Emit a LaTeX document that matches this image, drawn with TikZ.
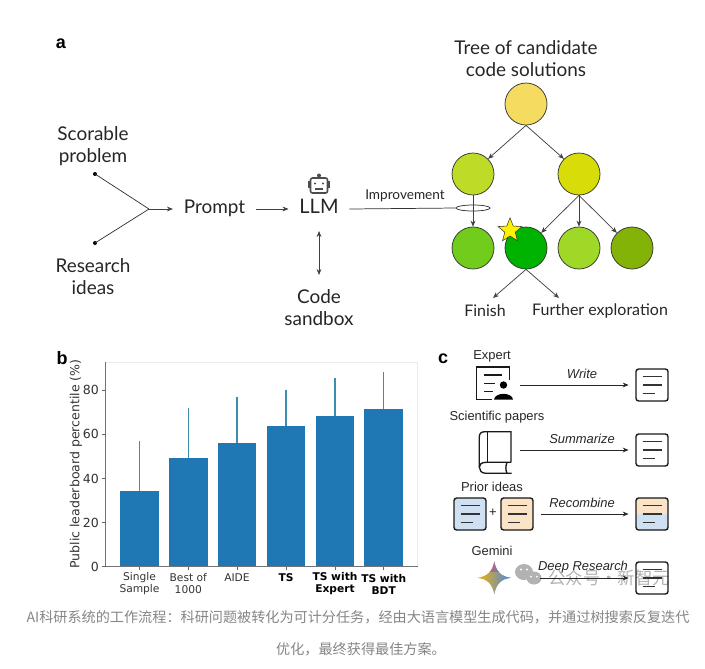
\documentclass[tikz,border=0pt]{standalone}
\usepackage{fontspec}
\usepackage{xcolor}
\usepackage{tikz}
\usetikzlibrary{positioning,shapes.geometric,arrows.meta}
\newfontfamily\labfont{Lato}
\newfontfamily\armfont{Liberation Sans}
\newfontfamily\pltfont{DejaVu Sans}
\newfontfamily\cjkfont{Noto Sans CJK SC}
\definecolor{barblue}{HTML}{1F77B4}
\definecolor{errblue}{HTML}{3C8DB0}
\definecolor{orangedoc}{HTML}{FBE3C8}
\definecolor{bluedoc}{HTML}{CFE0F2}
\definecolor{gemyellow}{HTML}{F5B400}
\definecolor{gemred}{HTML}{EA5A47}
\definecolor{gemgreen}{HTML}{2FB06A}
\definecolor{gemblue}{HTML}{4285F4}
\definecolor{gemteal}{HTML}{3FA8A0}
\tikzset{
  arr/.style={-{Stealth[length=4.5pt,width=3.6pt]},line width=.55pt,draw=black!75},
  carr/.style={arr,line width=.7pt,draw=black!85,shorten >=5pt},
  lbl/.style={font=\labfont\fontsize{14.2pt}{16.5pt}\selectfont,align=center,text=black!85,inner sep=0pt},
  midlbl/.style={lbl,text height=10pt,text depth=3pt,inner sep=8pt},
  panel/.style={font=\armfont\bfseries\fontsize{13.5pt}{15pt}\selectfont,inner sep=0pt},
  treenode/.style={circle,draw=black!80,line width=.55pt,minimum size=31.5pt,inner sep=0pt},
  dotend/.style={circle,fill=black,minimum size=3pt,inner sep=0pt},
  docbox/.style={draw=black!90,rounded corners=2pt,line width=1.05pt,minimum size=24pt,inner sep=0pt},
  docline/.style={line width=1pt,draw=black!80},
  iconline/.style={line width=1pt,draw=black!90},
  clbl/.style={font=\armfont\fontsize{9.7pt}{11pt}\selectfont,inner sep=0pt,text=black!85},
  verb/.style={clbl,font=\armfont\itshape\fontsize{9.7pt}{11pt}\selectfont},
  xtick/.style={font=\pltfont\fontsize{8pt}{9pt}\selectfont,align=center,inner sep=0pt,text=black!80},
  xbold/.style={xtick,font=\pltfont\bfseries\fontsize{8pt}{9pt}\selectfont,text=black},
  ytick/.style={font=\pltfont\fontsize{9.4pt}{11pt}\selectfont,inner sep=0pt,text=black!80},
  caption/.style={font=\cjkfont\fontsize{10.6pt}{12pt}\selectfont,text=black!48,inner sep=0pt}
}
\newcommand{\doclines}[1]{
  \draw[docline] ([shift={(-9.5,-8.5)}]#1.center) -- ++(19,0);
  \draw[docline] ([shift={(-9.5,0)}]#1.center) -- ++(19,0);
  \draw[docline] ([shift={(-9.5,8.5)}]#1.center) -- ++(12,0);
}
\begin{document}
\begin{tikzpicture}[x=0.75pt,y=0.75pt,yscale=-1]
\useasboundingbox (0,0) rectangle (705,668);

%Panel a: inputs
\draw (61,44) node (panela) [panel] {a};
\draw (93,146) node (scorable) [lbl] {Scorable\\problem};
\draw (93,277) node (research) [lbl] {Research\\ideas};
\draw (95,174) node (dotscore) [dotend] {};
\draw (95,243) node (dotideas) [dotend] {};
\coordinate (join) at (149,209);
\draw (214.5,209) node (prompt) [midlbl] {Prompt};
\draw (319,209) node (llm) [midlbl,font=\labfont\fontsize{15pt}{17pt}\selectfont] {LLM};
\draw (319,307.5) node (sandbox) [lbl] {Code\\sandbox};
\draw[line width=.55pt,draw=black!80] (dotscore.center) -- (join);
\draw[line width=.55pt,draw=black!80] (dotideas.center) -- (join);
\draw[arr] (join) -- (prompt.west);
\draw[arr] (prompt.east) -- (llm.west);
\coordinate (sandtop) at (319,275);
\coordinate (llmlow) at (319,231);
\draw[{Stealth[length=4.5pt,width=3.6pt]}-{Stealth[length=4.5pt,width=3.6pt]},line width=.55pt,draw=black!75] (llmlow) -- (sandtop);

%Robot icon
\draw[line width=1.2pt,draw=black!70,rounded corners=1.5pt] (310.5,178) rectangle (327.5,193);
\fill[black!70] (307.8,181) rectangle (310.5,188);
\fill[black!70] (327.5,181) rectangle (330.2,188);
\fill[black!70] (319,175.5) circle (2);
\fill[black!70] (315,183.5) circle (1.2);
\fill[black!70] (323,183.5) circle (1.2);
\draw[line width=.9pt,draw=black!70] (315,189) -- (323,189);

%Tree of solutions
\draw (526,59) node (treehead) [lbl] {Tree of candidate\\code solutions};
\draw (526,104) node (root) [treenode,fill={rgb,255:red,245;green,220;blue,96}] {};
\draw (473,174) node (lefttwo) [treenode,fill={rgb,255:red,190;green,219;blue,40}] {};
\draw (579,174) node (righttwo) [treenode,fill={rgb,255:red,216;green,220;blue,8}] {};
\draw (473,248) node (leafa) [treenode,fill={rgb,255:red,114;green,204;blue,28}] {};
\draw (526,248) node (leafb) [treenode,fill={rgb,255:red,0;green,179;blue,0}] {};
\draw (579,248) node (leafc) [treenode,fill={rgb,255:red,160;green,216;blue,40}] {};
\draw (632,248) node (leafd) [treenode,fill={rgb,255:red,132;green,179;blue,8}] {};
\draw[arr] (root.south) -- (lefttwo.north east);
\draw[arr] (root.south) -- (righttwo.north west);
\draw[arr] (lefttwo.south) -- (leafa.north);
\draw[arr] (righttwo.south) -- (leafb.north east);
\draw[arr] (righttwo.south) -- (leafc.north);
\draw[arr] (righttwo.south) -- (leafd.north west);
\draw (510,230.5) node (beststar) [star,star points=5,star point ratio=2.3,minimum size=19pt,inner sep=0pt,draw=black!80,line width=.4pt,fill={rgb,255:red,255;green,242;blue,0}] {};

%Improvement link
\draw (473,208) node (ring) [ellipse,draw=black!80,line width=.55pt,minimum width=25.5pt,minimum height=4.5pt,inner sep=0pt] {};
\draw[line width=.55pt,draw=black!80] (llm.east) -- (ring.west);
\draw (405,196) node (improve) [lbl,font=\labfont\fontsize{10.2pt}{11pt}\selectfont] {Improvement};

%Tree exits
\draw (485,311) node (finish) [lbl,font=\labfont\fontsize{12pt}{13pt}\selectfont] {Finish};
\draw (600,311) node (further) [lbl,font=\labfont\fontsize{12pt}{13pt}\selectfont] {Further exploration};
\coordinate (finishtip) at (493,298);
\coordinate (furthertip) at (559,298);
\draw[arr] (leafb.south) -- (finishtip);
\draw[arr] (leafb.south) -- (furthertip);

%Panel b: bar chart
\draw (62,358) node (panelb) [panel] {b};
\draw[black!8,line width=.5pt] (106,362) -- (417.7,362) -- (417.7,566.7);
\foreach \xc/\ytop/\yerr in {139.5/491/441.3,188.3/457.7/408,237/442.7/397,286/425.7/390,335/415.7/378.3,383.7/408.7/372}{
  \fill[barblue] (\xc-19.4,\ytop) rectangle (\xc+19.4,566.7);
  \draw[errblue,line width=.95pt] (\xc,\ytop) -- (\xc,\yerr);
  \draw[black!60,line width=.5pt] (\xc,566.7) -- (\xc,570);
}
\draw[black!55,line width=.6pt] (105.7,362) -- (105.7,566.7) -- (417.7,566.7);
\foreach \val/\ypos in {0/566.7,20/522.6,40/478.5,60/434.4,80/390.3}{
  \draw[black!60,line width=.5pt] (102,\ypos) -- (105.7,\ypos);
  \draw (99,\ypos) node (tick\val) [ytick,anchor=east] {\val};
}
\draw (76,464) node (ylabel) [ytick,rotate=90] {Public leaderboard percentile (\%)};
\draw (139.5,584) node (barone) [xtick] {Single\\Sample};
\draw (188.3,584) node (bartwo) [xtick] {Best of\\1000};
\draw (237,578) node (barthree) [xtick] {AIDE};
\draw (286,578) node (barfour) [xbold] {TS};
\draw (335,584) node (barfive) [xbold] {TS with\\Expert};
\draw (383.7,584) node (barsix) [xbold] {TS with\\BDT};

%Panel c
\draw (443,359) node (panelc) [panel] {c};

%Expert row
\draw (492,356) node (expert) [clbl] {Expert};
\draw[iconline] (509.3,380) -- (509.3,367) -- (476.7,367) -- (476.7,399.3) -- (491.7,399.3);
\draw[iconline] (484,375) -- (501.7,375);
\draw[iconline] (484,383.3) -- (495,383.3);
\draw[iconline] (484,391.7) -- (493.3,391.7);
\fill[black] (503.5,385) circle (3.7);
\fill[black] (494,399.5) .. controls (495,392) and (512,392) .. (513,399.5) -- cycle;
\coordinate (expertout) at (520,385);
\draw (652,385) node (docwrite) [docbox] {};
\doclines{docwrite}
\draw[carr] (expertout) -- (docwrite.west);
\draw (582,374) node (write) [verb] {Write};

%Papers row
\draw (497,417) node (papers) [clbl] {Scientific papers};
\draw[iconline] (511,462.3) -- (511,431.7) -- (485,431.7) .. controls (481,431.7) and (479.3,433.5) .. (479.3,437) -- (479.3,467);
\draw[iconline] (487.3,431.7) -- (487.3,462.3);
\draw[iconline] (511,462.3) -- (486,462.3) .. controls (481,462.3) and (479.3,465) .. (479.3,467) .. controls (479.3,470) and (481,473.3) .. (486,473.3) -- (511.5,473.3);
\draw[iconline] (507,462.3) .. controls (505.5,466) and (505.5,470) .. (507,473.3);
\coordinate (paperout) at (520,450);
\draw (652,450) node (docsum) [docbox] {};
\doclines{docsum}
\draw[carr] (paperout) -- (docsum.west);
\draw (582,439) node (summarize) [verb] {Summarize};

%Prior ideas row
\draw (492,487) node (prior) [clbl] {Prior ideas};
\draw (470,514) node (docblue) [docbox,fill=bluedoc] {};
\doclines{docblue}
\draw (493,513) node (plus) [clbl] {+};
\draw (517,514) node (docorange) [docbox,fill=orangedoc] {};
\doclines{docorange}
\coordinate (priorout) at (541,514);
\draw (652,514) node (docmix) [docbox,fill=orangedoc,path picture={\fill[bluedoc] (path picture bounding box.west) rectangle (path picture bounding box.south east);}] {};
\doclines{docmix}
\draw[carr] (priorout) -- (docmix.west);
\draw (582,503) node (recombine) [verb] {Recombine};

%Gemini row
\draw (492,551) node (gemini) [clbl] {Gemini};
\begin{scope}
\clip (494.3,561) .. controls (496,571) and (501,576.5) .. (511,577.7) .. controls (501,579) and (496,584.5) .. (494.3,594.5) .. controls (492.5,584.5) and (487.5,579) .. (477.5,577.7) .. controls (487.5,576.5) and (492.5,571) .. (494.3,561) -- cycle;
\shade[left color=gemyellow,middle color=gemgreen,right color=gemblue] (477,578) rectangle (512,595);
\shade[left color=gemyellow,middle color=gemteal,right color=gemblue] (477,571) rectangle (512,578);
\shade[left color=gemred,right color=gemblue] (488,561) rectangle (501,571);
\end{scope}

%Watermark
\fill[black!30] (524,572) ellipse (9 and 8);
\fill[black!30] (534,578) ellipse (7.5 and 6.5);
\fill[white] (521,569.5) circle (1.2);
\fill[white] (527,569.5) circle (1.2);
\fill[white] (531,576.5) circle (1);
\fill[white] (537,576.5) circle (1);
\draw (609,578) node (watermark) [font=\cjkfont\fontsize{13pt}{15pt}\selectfont,text=black!30,inner sep=0pt] {公众号·新智元};
\coordinate (geminiout) at (540,578);
\draw (652,578) node (docdeep) [docbox] {};
\doclines{docdeep}
\draw[carr] (geminiout) -- (docdeep.west);
\draw (583,567) node (deep) [verb] {Deep Research};

% Caption
\draw (358,617) node (capone) [caption] {AI科研系统的工作流程^^^^ff1a科研问题被转化为可计分任务^^^^ff0c经由大语言模型生成代码^^^^ff0c并通过树搜索反复迭代};
\draw (361,649) node (captwo) [caption] {优化^^^^ff0c最终获得最佳方案。};
\end{tikzpicture}
\end{document}
